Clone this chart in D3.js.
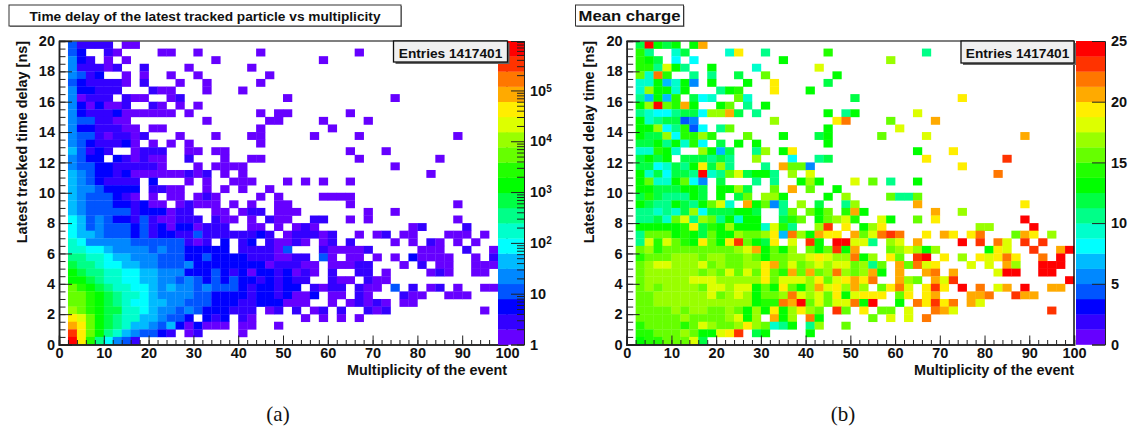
<!DOCTYPE html>
<html>
<head>
<meta charset="utf-8">
<script src="https://cdn.jsdelivr.net/npm/d3@7"></script>
<style>
  body { margin: 0; background: #fff; }
  text { font-family: "Liberation Sans", Arial, sans-serif; font-weight: bold; fill: #111; }
</style>
</head>
<body>
<div id="chart"></div>
<script>
// 20 contour colours shared by both histograms, lowest first
var paletteColors = ["#6600ff", "#3300ff", "#0000ff", "#0055ff", "#0088ff", "#00bbff", "#00ffff", "#00ffcc",
    "#00ff88", "#00ff44", "#00ff00", "#22ff00", "#66ff00", "#99ff00", "#ddff00", "#ffee00",
    "#ffaa00", "#ff7700", "#ff3300", "#ff0000"];

// cells are read off the picture as contour number: 0-9 then a-j, "." = empty bin
// first string is the top row (19.5-20 ns), each string runs from multiplicity 0 to 100 in 2-wide bins
var countRows = [
".3111 1.00.",
".32.. 10... .00.. 0.... ..0.. ..... ...0.",
".421. 0.0.. ..... ..0.. ..... ....0",
".4111 01..1 ....0 ..... .0...",
".4312 ..0.0 ..0.. 0.... ...0.",
".3211 110.1 ...0. .0... ..0..",
".4221 11... 100.. .0... 0....",
".4011 1.100 ..01. ..... ..... 0.... ..... ..0..",
".4202 001.. 10.0. 0....",
".4211 12000 000.0 ..... ..0.0 0.... ..0..",
".4331 100.. ..... .0... ...00 ....0 ....0",
".4221 1100. 00... ..... ..0.. ..... 0....",
".4331 01101 ...0. ..0.. .00.. ...0. ...0. ..... ....0",
".4321 1120. 0.0.0 ..... ..0..",
".5312 1..01 11..0 0.00. ..... ..... ..0.. .0...",
".4322 .2101 00..1 ...0. .00.. ..... ...0. ..... ..0..",
".4332 21111 10... 0.000 0.... ..... ..... ..0..",
".5432 21200 00001 01.0. 0.... ..... ..... ..... .0...",
".5432 1111. 2...0 .0..0 00... 0.0.0 ..0..",
".5443 2222. 1100. .0.0. 0..0.",
".5433 3210. 0.00. 010.. ..0.0 ....0 000..",
".5433 32212 00.01 000.0 .0..0 0.... ..0.. ..... ....0",
".5433 33312 22011 ..00. 011.0 00... ....0 ..0..",
".6534 32213 10011 1.100 .0.10 0..11 ..0.0 ..... ....0",
".6534 33323 12022 0111. .00.0 .010. ..... ....0 1.... 1....",
".6554 33323 12211 31111 1121. 01110 1..0. 01.00 ...00 0.0..",
".7644 44433 33331 01.2. 12.10 010.0 1.1.. ..0.0 .10.0 .0...",
".7766 54444 34332 2222. 11110 3...1 00001 ..... 000.. 1..0.",
".8877 65544 43332 23222 21110 011.3 0.00. 0.0.2 0000. .0.1.",
".9887 66554 43334 22222 22201 1100. 00011 ...0. 1.00. .000.",
".a988 77665 54442 22321 20221 2010. 1..11 .0... .010. .00..",
".aa98 77665 54434 32323 22121 211.. 100.1 00...",
".cba9 87766 54544 34333 21221 22.10 11.10 0.3.1 .01.0 ..00.",
".ccba 98776 54444 33222 21221 2002. 00.10 ...10 0..00 0....",
".ccba 98766 55443 33222 11222 000.. 0.010 10.00",
".dcba 99776 54434 32221 11.01 .1.01 .1..1 01... ..... ..0..",
".feca 98775 54332 .212. 10... ..0.0 .0.0.",
".gfca 98755 43520 2000. 00..0",
".ifca 87543 321.0 1.... 0....",
".jfb8 6431."
];

var chargeRows = [
".9ja9 a.ag.",
".b8.. 79... .7f.. 8.... ..b.. ..... ...8.",
".ba9. 6.6.. ..... ..a.. ..... ....d",
".bb8e a8..a ....7 ..... .e...",
".c7hb ..8.8 ..9.. c.... ...a.",
".77a5 7a4.a ...a. .f... ..9..",
".7daa 7a... 8ab.. .f... a....",
".85a5 b.967 ..c7. ..... ..... 9.... ..... ..f..",
".adjc bga.. ac.8. a....",
".8766 8996d dg9.8 ..... ..a.8 a.... ..e..",
".a789 934.. ..... .d... ...fh ....c ....g",
".aad6 8b36. 8c... ..... ..a.. ..... e....",
".a99d 6bbdb ...c. ..a.. .9a.. ...c. ...e. ..... ....g",
".99a8 a7b6. 9.a.a ..... ..a..",
".77ba 7..da 59..8 d.af. ..... ..... ..a.. .f...",
".9a9a .9998 98..d ...6. .89.. ..... ...f. ..... ..i..",
".9967 98af9 d8... 8.gcc 4.... ..... ..... ..f..",
".a796 998j7 8ce9a a8.d. e.... ..... ..... ..... .h...",
".ac77 ac64. 9...8 .8..a da... e.c.8 ..a..",
".aa99 9aa9. aad9. .c.g. c..a.",
".9b98 88a9. a.9c. dda.. ..a.d ....c 88c..",
".a988 a98ac e7.ga c48.d .9..8 d.... ..g.. ..... ....f",
".8878 79d69 99aa9 ..8c. cac.b ga... ....g ..d..",
".8897 ce8dc 8a7aa ..9bc .acde b..ea ..c.f ..... ....j",
".aaaa abf9b adaaa 7eb8. .di.f .adf. ..... ....d d.... j....",
".8ccc aba9c aadcc df5hd agff. gcehi h..f. gf.fh ...cg f.d..",
".8ebe cbafc afica 9f.e. ia.jj ee8.d e.g.. ..j.i .he.i .i...",
".cdbc ccccc ccdeg acad. cacia g...c dedad ..... afe.. i..gj",
".bccc dddcd dccdc accdd efedd had.f c.ij. f.d.f efhf. .h.j.",
".cdee dddec dccdd fgcec dedee cd8c. gchef ...e. e.gd. .jjj.",
".cddd dddcd cecec fcbgc gcdhd cdga. g..gh .g... .ejj. .jj..",
".cddd ddeee ddddd fceee dfcef gfh.. gdc.g ei... ..... ....j",
".cdcd dddce edeea cafca dgefd gd.cf he.fi f.j.h .eg.j ..gg.",
".ccdd dddde cdeda ccdhe decfa efff. cf.fg ...gg h..ig g....",
".ccdd ddddd dddda bbhgj cecee haj.. a.hfi fh.ge",
".cccc dcddc cdcad afadf dc.ic .f.cc .e..h ge... ..... ..i..",
".cccc cdccc cdead .gad. ha... ..c.e .e.h.",
".bccc cbced ccdfd c78a. 8d..c",
".bbcc cdcaa efi.9 a.... a....",
".abbc cce9."
];

var xMajorTicks = [0, 10, 20, 30, 40, 50, 60, 70, 80, 90, 100];
var yMajorTicks = [0, 2, 4, 6, 8, 10, 12, 14, 16, 18, 20];
var countTicks = [1, 10, 100, 1000, 10000, 100000];
var chargeTicks = [0, 5, 10, 15, 20, 25];
var countMax = 940000;
var chargeMax = 25;
var binW = 2, binH = 0.5, nLevels = 20;

var svg = d3.select("#chart").append("svg")
    .attr("width", 1128)
    .attr("height", 433)
    .style("display", "block");

// contour number -> value at the middle of that contour
function rowsToCells(rows, levelToValue) {
    var cells = [];
    rows.forEach(function (row, i) {
        var chars = row.replace(/ /g, "");
        for (var j = 0; j < chars.length; j++) {
            if (chars[j] == ".") continue;
            cells.push({
                mult: j * binW,
                delay: 20 - (i + 1) * binH,
                value: levelToValue(parseInt(chars[j], 20))
            });
        }
    });
    return cells;
}

function drawPanel(p) {
    var g = svg.append("g");
    var x = d3.scaleLinear().domain([0, 100]).range([p.left, p.right]);
    var y = d3.scaleLinear().domain([0, 20]).range([344.5, 41]);

    // cells
    g.append("g").selectAll("rect")
        .data(p.cells)
        .enter().append("rect")
        .attr("x", function (d) { return x(d.mult); })
        .attr("y", function (d) { return y(d.delay + binH); })
        .attr("width", x(binW) - x(0) + 0.3)
        .attr("height", y(0) - y(binH) + 0.3)
        .attr("fill", function (d) { return p.color(d.value); });

    // frame top / right
    g.append("line").attr("x1", p.left).attr("x2", p.right).attr("y1", 41).attr("y2", 41)
        .attr("stroke", "#555").attr("stroke-width", 1.5);
    g.append("line").attr("x1", p.right).attr("x2", p.right).attr("y1", 41).attr("y2", 344.5)
        .attr("stroke", "#111").attr("stroke-width", 1.5);

    // x axis, ticks point into the plot
    var xAxis = d3.axisBottom(x).tickValues(xMajorTicks).tickSize(-9).tickPadding(3);
    var xMinor = d3.axisBottom(x).tickValues(d3.range(0, 101, 2)).tickSize(-4.5).tickFormat("");
    g.append("g").attr("class", "axis").attr("transform", "translate(0,344.5)").call(xMinor);
    g.append("g").attr("class", "axis").attr("transform", "translate(0,344.5)").call(xAxis);

    // y axis
    var yAxis = d3.axisLeft(y).tickValues(yMajorTicks).tickSize(-13).tickPadding(4);
    var yMinor = d3.axisLeft(y).tickValues(d3.range(0, 20.1, 0.5)).tickSize(-6.5).tickFormat("");
    g.append("g").attr("class", "axis").attr("transform", "translate(" + p.left + ",0)").call(yMinor);
    g.append("g").attr("class", "axis").attr("transform", "translate(" + p.left + ",0)").call(yAxis);

    g.selectAll(".axis text").style("font-size", "14.5px").style("font-family", "Liberation Sans");
    g.selectAll(".axis path").attr("stroke", "#222").attr("stroke-width", 1.5);
    g.selectAll(".axis line").attr("stroke", "#222").attr("stroke-width", 1);

    // axis titles
    g.append("text")
        .attr("x", p.right)
        .attr("y", 374.5)
        .attr("text-anchor", "end")
        .style("font-size", "14.4px")
        .text("Multiplicity of the event");
    g.append("text")
        .attr("transform", "translate(" + p.yTitleX + ",41) rotate(-90)")
        .attr("text-anchor", "end")
        .style("font-size", "14.4px")
        .text(p.yTitle);

    // colour bar, sits over the plot like the root palette does
    var bar = g.append("g");
    bar.selectAll("rect")
        .data(d3.range(nLevels))
        .enter().append("rect")
        .attr("x", p.barLeft)
        .attr("width", p.barRight - p.barLeft)
        .attr("y", function (i) { return 344.5 - (i + 1) * 303.5 / nLevels; })
        .attr("height", 303.5 / nLevels + 0.3)
        .attr("fill", function (i) { return paletteColors[i]; });

    var barAxis = d3.axisRight(p.barScale).tickValues(p.barTicks).tickSize(-13).tickPadding(6)
        .tickFormat(p.barFormat);
    var barG = g.append("g").attr("transform", "translate(" + p.barRight + ",0)");
    if (p.barMinor) {
        barG.append("g").call(d3.axisRight(p.barScale).tickValues(p.barMinor).tickSize(-7).tickFormat(""));
    }
    var barMajor = barG.append("g").call(barAxis);
    barG.selectAll("path").attr("stroke", "#222").attr("stroke-width", 1);
    barG.selectAll("line").attr("stroke", "#222");
    barMajor.selectAll("text").style("font-size", "14.5px").style("font-family", "Liberation Sans");
    if (p.superscripts) {
        barMajor.selectAll("text").each(function (d) {
            var e = Math.round(Math.log10(d));
            if (e < 2) return;
            var t = d3.select(this).text("10");
            t.append("tspan").attr("dy", "-0.4em").style("font-size", "10px").text(e);
        });
    }

    // stats box with shadow
    g.append("rect").attr("x", p.statsX + 2).attr("y", 43).attr("width", p.statsW).attr("height", p.statsH)
        .attr("fill", "#666");
    g.append("rect").attr("x", p.statsX).attr("y", 41).attr("width", p.statsW).attr("height", p.statsH)
        .attr("fill", "#f0f0f0").attr("stroke", "#111").attr("stroke-width", 1.3);
    g.append("text")
        .attr("x", p.statsX + p.statsW / 2)
        .attr("y", 58)
        .attr("text-anchor", "middle")
        .style("font-size", "13.7px")
        .text("Entries 1417401");

    // title box
    g.append("rect").attr("x", p.titleX + 1).attr("y", 6).attr("width", p.titleW).attr("height", 21)
        .attr("fill", "#888");
    g.append("rect").attr("x", p.titleX).attr("y", 5).attr("width", p.titleW).attr("height", 21)
        .attr("fill", "#fff").attr("stroke", "#333").attr("stroke-width", 1);
    g.append("text")
        .attr("x", p.titleX + p.titleW / 2)
        .attr("y", 20.5)
        .attr("text-anchor", "middle")
        .style("font-size", p.titleSize)
        .attr("textLength", p.titleLen)
        .attr("lengthAdjust", "spacingAndGlyphs")
        .text(p.title);

    // caption
    svg.append("text")
        .attr("x", p.capX)
        .attr("y", 421)
        .attr("text-anchor", "middle")
        .style("font-family", "Liberation Serif")
        .style("font-weight", "normal")
        .style("font-size", "21px")
        .text(p.caption);
}

// left: counts on a log colour scale
var logStep = Math.log10(countMax) / nLevels;
var countColor = d3.scaleQuantize().domain([0, Math.log10(countMax)]).range(paletteColors);
var countBarScale = d3.scaleLog().domain([1, countMax]).range([344.5, 41]);
var countMinor = [];
countTicks.forEach(function (t) {
    [2, 3, 4, 5, 6, 7, 8, 9].forEach(function (m) {
        if (t * m < countMax) countMinor.push(t * m);
    });
});

drawPanel({
    left: 59, right: 507,
    cells: rowsToCells(countRows, function (l) { return Math.pow(10, (l + 0.5) * logStep); }),
    color: function (v) { return countColor(Math.log10(v)); },
    yTitle: "Latest tracked time delay [ns]", yTitleX: 27,
    barLeft: 498, barRight: 524,
    barScale: countBarScale, barTicks: countTicks, barMinor: countMinor,
    barFormat: d3.format("d"), superscripts: true,
    statsX: 393.5, statsW: 114, statsH: 21,
    titleX: 9, titleW: 392, titleSize: "13.2px", titleLen: 351,
    title: "Time delay of the latest tracked particle vs multiplicity",
    capX: 278, caption: "(a)"
});

// right: mean charge on a linear colour scale
var chargeColor = d3.scaleQuantize().domain([0, chargeMax]).range(paletteColors);

drawPanel({
    left: 626.7, right: 1074,
    cells: rowsToCells(chargeRows, function (l) { return (l + 0.5) * chargeMax / nLevels; }),
    color: chargeColor,
    yTitle: "Latest tracked delay time [ns]", yTitleX: 594,
    barLeft: 1076, barRight: 1105,
    barScale: d3.scaleLinear().domain([0, chargeMax]).range([344.5, 41]),
    barTicks: chargeTicks, barMinor: null,
    barFormat: d3.format("d"), superscripts: false,
    statsX: 961, statsW: 113, statsH: 22,
    titleX: 575.5, titleW: 108, titleSize: "15px", titleLen: 102,
    title: "Mean charge",
    capX: 843, caption: "(b)"
});
</script>
</body>
</html>
